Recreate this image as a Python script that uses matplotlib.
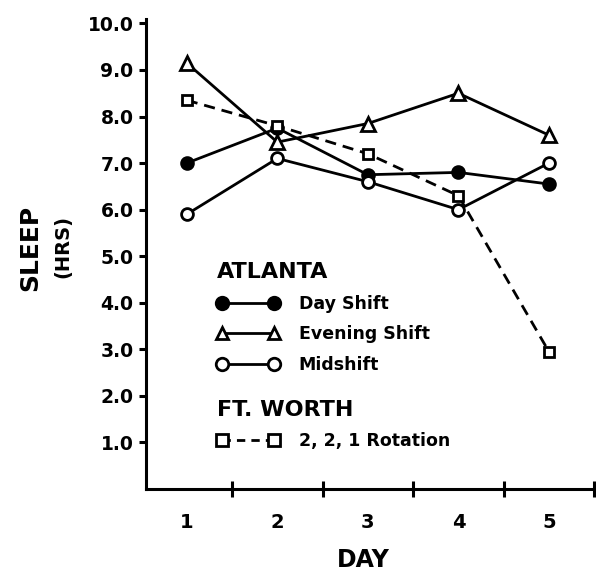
import matplotlib
matplotlib.use("Agg")
import matplotlib.pyplot as plt
from matplotlib.lines import Line2D

days = [1, 2, 3, 4, 5]
day_shift = [7.0, 7.75, 6.75, 6.8, 6.55]
evening_shift = [9.15, 7.45, 7.85, 8.5, 7.6]
midshift = [5.9, 7.1, 6.6, 6.0, 7.0]
rotation = [8.35, 7.8, 7.2, 6.3, 2.95]

y_ticks = [1, 2, 3, 4, 5, 6, 7, 8, 9, 10]
y_labels = ["1.0", "2.0", "3.0", "4.0", "5.0", "6.0", "7.0", "8.0", "9.0", "10.0"]

plt.rcParams["font.family"] = ["DejaVu Sans"]
plt.rcParams["font.weight"] = "bold"

fig = plt.figure(figsize=(5.96, 5.77), dpi=100)
ax = fig.add_axes([0.245, 0.1525, 0.755, 0.815])

lw = 2.0
ms = 8.5
mew = 2.0
k = "black"

ax.plot(days, day_shift, color=k, lw=lw, marker="o", ms=ms, mfc=k, mec=k, mew=mew)
ax.plot(days, evening_shift, color=k, lw=lw, marker="^", ms=ms + 1, mfc="white", mec=k, mew=mew)
ax.plot(days, midshift, color=k, lw=lw, marker="o", ms=ms, mfc="white", mec=k, mew=mew)
ax.plot(days, rotation, color=k, lw=lw, marker="s", ms=ms - 1, mfc="white", mec=k, mew=mew,
        dashes=(4, 2.5))

ax.set_xlim(0.55, 5.52)
ax.set_ylim(0, 10.1)

for side in ["top", "right"]:
    ax.spines[side].set_visible(False)
for side in ["left", "bottom"]:
    ax.spines[side].set_linewidth(2.2)

ax.set_yticks(y_ticks)
ax.set_yticklabels(y_labels)
ax.tick_params(axis="y", direction="out", length=5, width=2.2, pad=4, labelsize=13.5)

ax.set_xticks(days)
ax.set_xticklabels([str(d) for d in days])
ax.set_xticks([1.5, 2.5, 3.5, 4.5, 5.5], minor=True)
ax.tick_params(axis="x", which="major", length=0, pad=17, labelsize=14)
ax.tick_params(axis="x", which="minor", direction="inout", length=11, width=2.2)

ax.set_xlabel("DAY", fontsize=17, fontweight="bold")
ax.xaxis.set_label_coords(0.482, -0.125)

fig.text(0.05, 0.57, "SLEEP", rotation=90, fontsize=18, fontweight="bold",
         ha="center", va="center")
fig.text(0.105, 0.572, "(HRS)", rotation=90, fontsize=14, fontweight="bold",
         ha="center", va="center")

# legend, in two groups
leg_kw = dict(loc="upper left", frameon=False, alignment="left", numpoints=2,
              handlelength=3.6, handletextpad=1.1, labelspacing=0.72,
              borderpad=0, borderaxespad=0, prop={"size": 12.5, "weight": "bold"},
              title_fontproperties={"size": 16, "weight": "bold"})

atl_handles = [
    Line2D([], [], color=k, lw=lw, marker="o", ms=ms + 0.5, mfc=k, mec=k, mew=mew),
    Line2D([], [], color=k, lw=lw, marker="^", ms=ms + 0.5, mfc="white", mec=k, mew=mew),
    Line2D([], [], color=k, lw=lw, marker="o", ms=ms + 0.5, mfc="white", mec=k, mew=mew),
]
atl_labels = ["Day Shift", "Evening Shift", "Midshift"]
leg1 = ax.legend(atl_handles, atl_labels, title="ATLANTA",
                 bbox_to_anchor=(0.158, 0.482), **leg_kw)
ax.add_artist(leg1)

ftw_handles = [
    Line2D([], [], color=k, lw=lw, marker="s", ms=ms - 0.5, mfc="white", mec=k, mew=mew,
           dashes=(3, 2.2)),
]
ax.legend(ftw_handles, ["2, 2, 1 Rotation"], title="FT. WORTH",
          bbox_to_anchor=(0.158, 0.19), **leg_kw)

fig.savefig("out.png", dpi=100)
